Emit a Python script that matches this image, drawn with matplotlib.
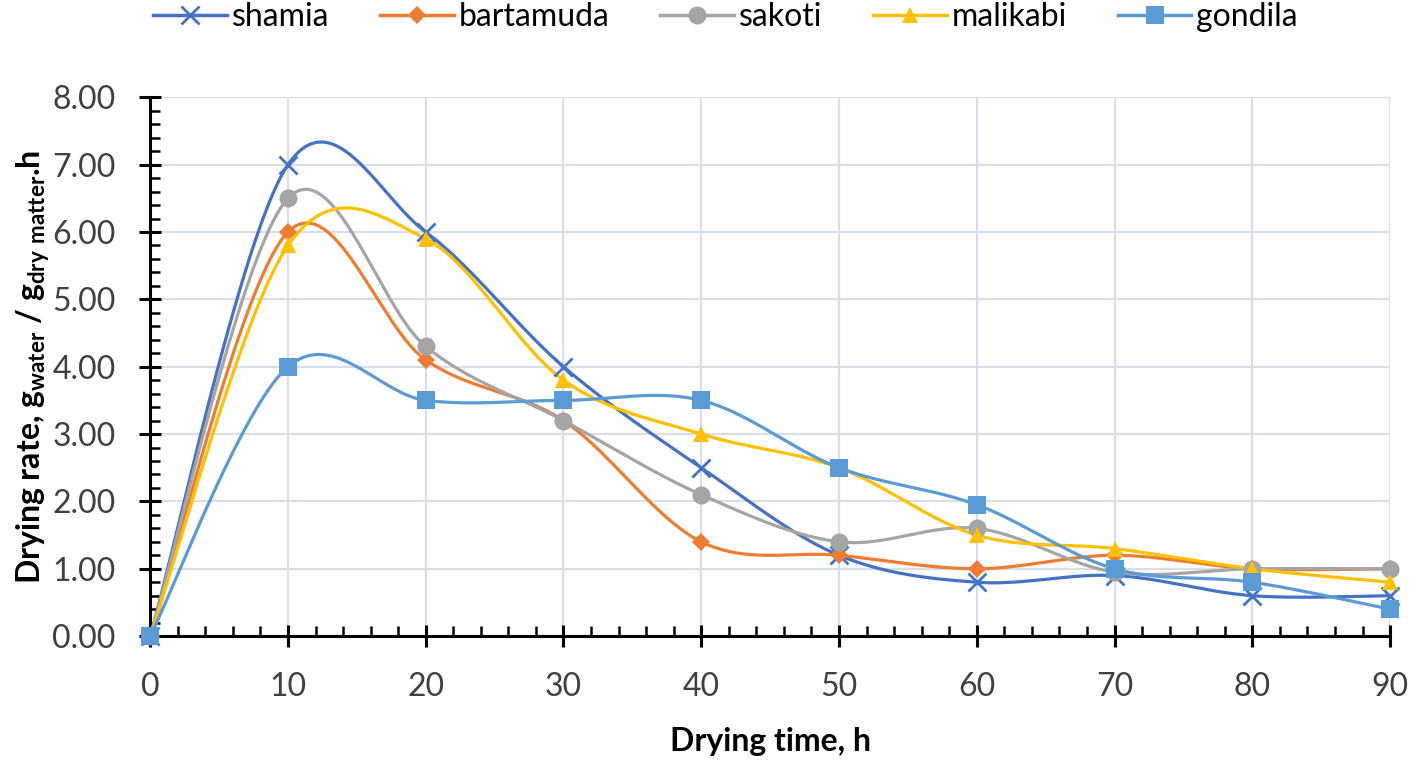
import numpy as np
import matplotlib
matplotlib.use("Agg")
import matplotlib.pyplot as plt
from matplotlib.ticker import MultipleLocator, FormatStrFormatter

plt.rcParams['font.family'] = ['Lato', 'DejaVu Sans']
plt.rcParams['mathtext.fontset'] = 'custom'
plt.rcParams['mathtext.rm'] = 'Lato'
plt.rcParams['mathtext.bf'] = 'Lato:bold'

time_h = [0, 10, 20, 30, 40, 50, 60, 70, 80, 90]

shamia = [0, 7.0, 6.0, 4.0, 2.5, 1.2, 0.8, 0.9, 0.6, 0.6]
bartamuda = [0, 6.0, 4.1, 3.2, 1.4, 1.2, 1.0, 1.2, 1.0, 1.0]
sakoti = [0, 6.5, 4.3, 3.2, 2.1, 1.4, 1.6, 0.95, 1.0, 1.0]
malikabi = [0, 5.8, 5.9, 3.8, 3.0, 2.5, 1.5, 1.3, 1.0, 0.8]
gondila = [0, 4.0, 3.5, 3.5, 3.5, 2.5, 1.95, 1.0, 0.8, 0.4]

names = ['shamia', 'bartamuda', 'sakoti', 'malikabi', 'gondila']
series = [shamia, bartamuda, sakoti, malikabi, gondila]
colors = ['#4472C4', '#ED7D31', '#A5A5A5', '#FFC000', '#5B9BD5']
markers = ['x', 'D', 'o', '^', 's']
msizes = [13, 9, 13, 12, 13]


def smooth(x, y, n=40):
    # excel-like smoothed line: cubic bezier segments with cardinal tangents
    x = np.asarray(x, float)
    y = np.asarray(y, float)
    xs, ys = [], []
    for i in range(len(x) - 1):
        i0 = max(i - 1, 0)
        i3 = min(i + 2, len(x) - 1)
        p0 = np.array([x[i], y[i]])
        p3 = np.array([x[i + 1], y[i + 1]])
        p1 = p0 + (p3 - np.array([x[i0], y[i0]])) / 6.0
        p2 = p3 - (np.array([x[i3], y[i3]]) - p0) / 6.0
        t = np.linspace(0, 1, n)[:, None]
        pts = ((1 - t) ** 3) * p0 + 3 * ((1 - t) ** 2) * t * p1 + 3 * (1 - t) * t ** 2 * p2 + t ** 3 * p3
        xs.extend(pts[:, 0])
        ys.extend(pts[:, 1])
    return xs, ys


fig = plt.figure(figsize=(14.17, 7.6), dpi=100)
ax = fig.add_subplot(111)
plt.subplots_adjust(left=0.106, right=0.981, bottom=0.163, top=0.872)

for name, vals, c, m, ms in zip(names, series, colors, markers, msizes):
    sx, sy = smooth(time_h, vals)
    ax.plot(sx, sy, color=c, lw=2.3, zorder=3)
    mew = 2.0 if m == 'x' else 0
    ax.plot(time_h, vals, ls='none', marker=m, ms=ms, color=c, mew=mew, zorder=4, clip_on=False)
    ax.plot([], [], color=c, lw=2.5, marker=m, ms=ms, mew=mew, label=name)

ax.set_xlim(0, 90)
ax.set_ylim(0, 8)
ax.xaxis.set_major_locator(MultipleLocator(10))
ax.xaxis.set_minor_locator(MultipleLocator(2))
ax.yaxis.set_major_locator(MultipleLocator(1))
ax.yaxis.set_minor_locator(MultipleLocator(0.2))
ax.yaxis.set_major_formatter(FormatStrFormatter('%.2f'))

ax.grid(True, which='major', color='#D9DEE8', lw=1.6, zorder=0)
ax.set_axisbelow(True)
for s in ['top', 'right']:
    ax.spines[s].set_visible(False)
for s in ['left', 'bottom']:
    ax.spines[s].set_linewidth(2.2)
    ax.spines[s].set_zorder(2)

ax.tick_params(which='major', direction='inout', length=16, width=2.2, labelsize=23,
               labelcolor='#404040')
ax.tick_params(axis='x', which='major', pad=18)
ax.tick_params(axis='y', which='major', pad=17)
ax.tick_params(which='minor', direction='in', length=7, width=1.8)

ax.set_xlabel('Drying time, h', fontsize=23, fontweight='bold', labelpad=18)
ax.set_ylabel(r'Drying rate, g$_{\mathbf{water}}$ / g$_{\mathbf{dry\ matter}}$.h',
              fontsize=23, fontweight='bold')
ax.yaxis.set_label_coords(-0.079, 0.5)

fig.legend(loc='upper center', bbox_to_anchor=(0.512, 1.035), ncol=5, frameon=False,
           fontsize=23, handlelength=2.3, handletextpad=0.15, columnspacing=1.6)

fig.savefig('out.png', dpi=100)
